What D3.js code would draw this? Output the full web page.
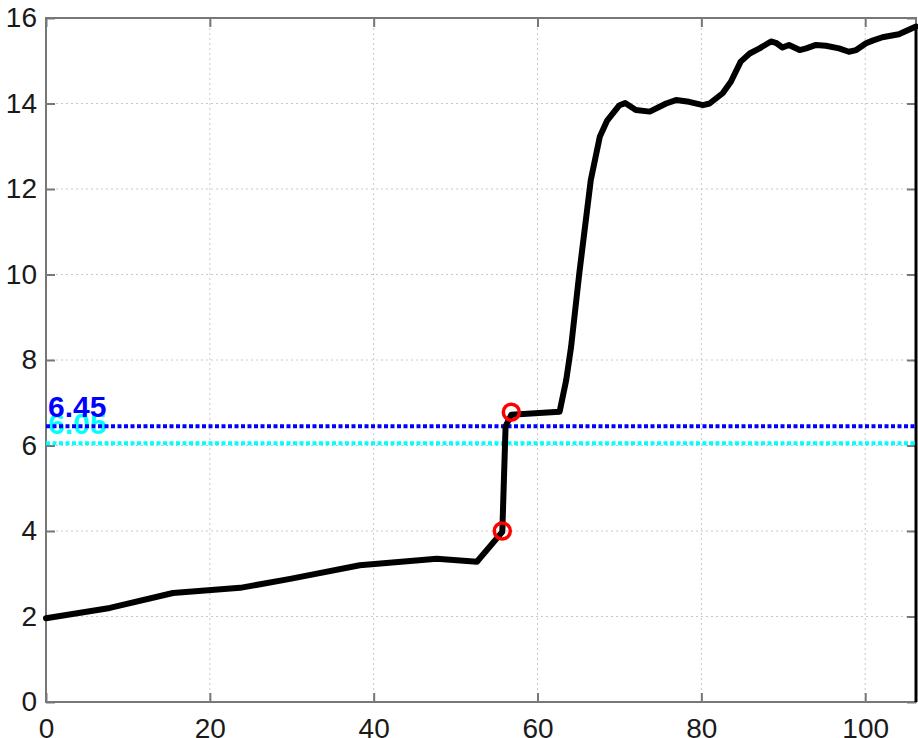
<!DOCTYPE html>
<html>
<head>
<meta charset="utf-8">
<script src="https://cdn.jsdelivr.net/npm/d3@7"></script>
<style>
  body { margin: 0; background: #fff; }
  svg { display: block; }
  text { font-family: "Liberation Sans", Arial, sans-serif; }
</style>
</head>
<body>
<div id="chart"></div>
<script>
// curve values
var xVals = [0, 7.8, 15.5, 23.7, 29.8, 38.3, 47.7, 52.6, 55.7, 56.1, 56.8, 60.2, 62.7, 63.5, 64.1, 65.1, 66.5, 67.6, 68.5,
  70.0, 70.7, 72.0, 73.7, 75.7, 76.9, 78.5, 80.2, 81.0, 82.6, 83.6, 84.8, 85.9, 87.1, 88.5, 89.1, 89.9, 90.7,
  92.0, 92.8, 94.0, 95.2, 96.8, 98.0, 98.9, 100.1, 100.9, 102.1, 104.1, 106.2]
var yVals = [1.96, 2.2, 2.55, 2.67, 2.88, 3.2, 3.35, 3.28, 3.98, 6.45, 6.72, 6.76, 6.79, 7.53, 8.31, 10.03, 12.21, 13.22, 13.6,
  13.96, 14.01, 13.85, 13.81, 14.0, 14.08, 14.04, 13.96, 14.0, 14.24, 14.51, 14.98, 15.17, 15.29, 15.45, 15.42, 15.31, 15.37,
  15.25, 15.29, 15.37, 15.35, 15.29, 15.21, 15.25, 15.41, 15.47, 15.55, 15.62, 15.8]
var markX = [55.7, 56.8]
var markY = [4.0, 6.78]
var refValues = [6.45, 6.05]
var refLabels = ['6.45', '6.05']
var refColors = ['#0000ff', '#00ffff']
var xTicks = [0, 20, 40, 60, 80, 100]
var yTicks = [0, 2, 4, 6, 8, 10, 12, 14, 16]

var W = 918, H = 738
var margin = { top: 18, right: 2, bottom: 36, left: 46 }
var iw = W - margin.left - margin.right
var ih = H - margin.top - margin.bottom

var svg = d3.select('#chart').append('svg').attr('width', W).attr('height', H)
var g = svg.append('g').attr('transform', 'translate(' + margin.left + ',' + margin.top + ')')

var x = d3.scaleLinear().domain([0, 106.2]).range([0, iw])
var y = d3.scaleLinear().domain([0, 16]).range([ih, 0])

// grid
g.append('g').selectAll('line').data(xTicks.filter(function (d) { return d > 0 }))
  .enter().append('line')
  .attr('x1', function (d) { return x(d) }).attr('x2', function (d) { return x(d) })
  .attr('y1', 0).attr('y2', ih)
  .attr('stroke', '#c8c8c8').attr('stroke-width', 1).attr('stroke-dasharray', '2,3')
g.append('g').selectAll('line').data(yTicks.filter(function (d) { return d > 0 && d < 16 }))
  .enter().append('line')
  .attr('y1', function (d) { return y(d) }).attr('y2', function (d) { return y(d) })
  .attr('x1', 0).attr('x2', iw)
  .attr('stroke', '#c8c8c8').attr('stroke-width', 1).attr('stroke-dasharray', '2,3')

// axes with inward ticks
function styleAxis (sel) {
  sel.select('.domain').remove()
  sel.selectAll('.tick line').attr('stroke', '#777').attr('stroke-width', 2)
  sel.selectAll('.tick text').attr('fill', '#1a1a1a').style('font-size', '28px')
}
g.append('g').attr('transform', 'translate(0,' + ih + ')')
  .call(d3.axisBottom(x).tickValues(xTicks).tickSizeInner(-9).tickPadding(16).tickFormat(d3.format('d')))
  .call(styleAxis)
g.append('g')
  .call(d3.axisTop(x).tickValues(xTicks).tickSizeInner(-9).tickFormat(''))
  .call(styleAxis)
g.append('g')
  .call(d3.axisLeft(y).tickValues(yTicks).tickSizeInner(-9).tickPadding(9).tickFormat(d3.format('d')))
  .call(styleAxis)
g.append('g').attr('transform', 'translate(' + iw + ',0)')
  .call(d3.axisRight(y).tickValues(yTicks).tickSizeInner(-9).tickFormat(''))
  .call(styleAxis)

// frame
g.append('rect').attr('x', 0).attr('y', 0).attr('width', iw).attr('height', ih)
  .attr('fill', 'none').attr('stroke', '#777').attr('stroke-width', 2)
g.append('line').attr('x1', iw).attr('x2', iw).attr('y1', 8).attr('y2', ih)
  .attr('stroke', '#000').attr('stroke-width', 3)

// reference labels then lines (lines drawn over the labels)
refValues.slice().reverse().forEach(function (v, i) {
  var k = refValues.length - 1 - i
  g.append('text').attr('x', 2).attr('y', y(v) - 9)
    .attr('fill', refColors[k]).style('font-size', '30px').style('font-weight', 'bold')
    .text(refLabels[k])
})
refValues.slice().reverse().forEach(function (v, i) {
  var k = refValues.length - 1 - i
  g.append('line').attr('x1', 0).attr('x2', iw).attr('y1', y(v)).attr('y2', y(v))
    .attr('stroke', refColors[k]).attr('stroke-width', 4).attr('stroke-dasharray', '4,2.5')
})

// main curve
var pts = xVals.map(function (d, i) { return [d, yVals[i]] })
var line = d3.line().x(function (d) { return x(d[0]) }).y(function (d) { return y(d[1]) })
g.append('path').datum(pts).attr('d', line)
  .attr('fill', 'none').attr('stroke', '#000').attr('stroke-width', 6)
  .attr('stroke-linejoin', 'round').attr('stroke-linecap', 'round')

// markers
g.selectAll('.mark').data(markX).enter().append('circle')
  .attr('class', 'mark')
  .attr('cx', function (d) { return x(d) })
  .attr('cy', function (d, i) { return y(markY[i]) })
  .attr('r', 8)
  .attr('fill', 'none').attr('stroke', '#ff0000').attr('stroke-width', 3.5)
</script>
</body>
</html>
